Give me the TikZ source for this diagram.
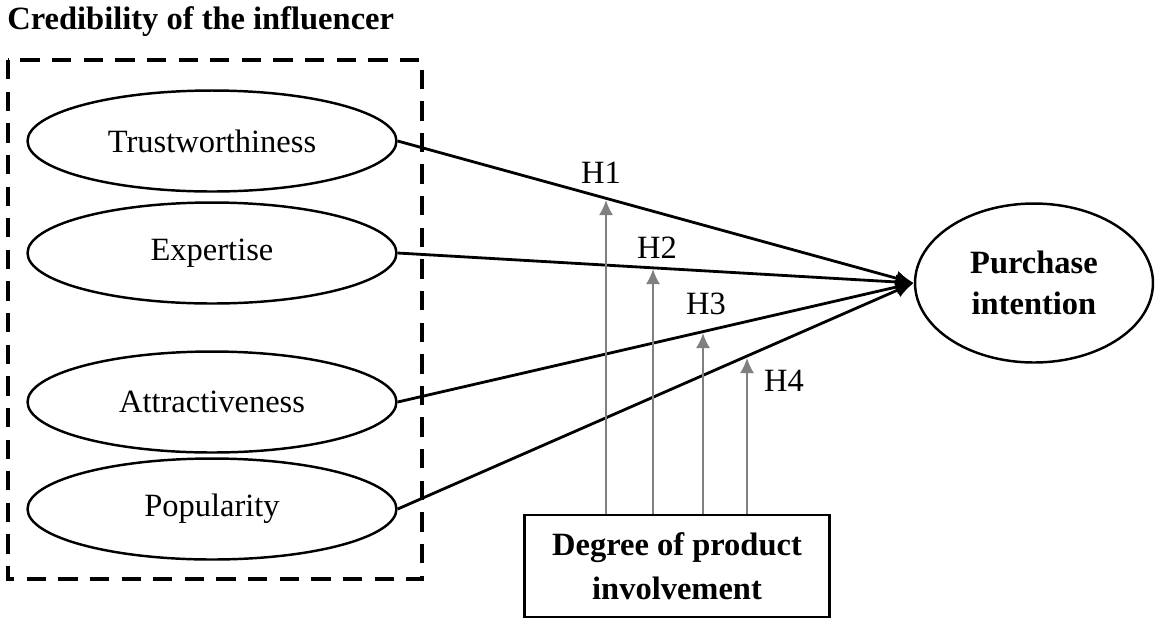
\documentclass[tikz,border=0pt]{standalone}
\usepackage{fontspec}
\setmainfont{Liberation Serif}
\usetikzlibrary{shapes.geometric,arrows.meta}
\definecolor{modgray}{RGB}{128,128,128}

\begin{document}
\begin{tikzpicture}[x=0.02cm,y=-0.02cm,
        every node/.style={font=\fontsize{18.5}{21}\selectfont},
        construct/.style={draw,ellipse,line width=1.4pt,inner sep=0pt,minimum width=7.38cm,minimum height=2.02cm},
        effect/.style={line width=1.6pt,-{Latex[length=0.36cm,width=0.3cm]}},
        moderate/.style={draw=modgray,line width=1.1pt,-{Latex[length=0.3cm,width=0.28cm]}}]
    \useasboundingbox (0,0) rectangle (1156,620);
    % credibility block
    \node[anchor=west,inner sep=0pt,font=\fontsize{18.5}{21}\selectfont\bfseries] (title) at (7,22) {Credibility of the influencer};
    \draw[dashed,line width=2pt,dash pattern=on 11pt off 7pt] (8,60) rectangle (422,579);
    \node[construct] (trust) at (212,141) {Trustworthiness};
    \node[construct] (exper) at (212,253) {Expertise};
    \node[construct] (attr) at (212,402) {Attractiveness};
    \node[construct] (pop) at (212,509) {Popularity};
    % outcome and moderator
    \node[construct,minimum width=4.76cm,minimum height=3.18cm,align=center,font=\fontsize{18.5}{23}\selectfont\bfseries] (pi) at (1034,283) {Purchase\\intention};
    \node[draw,line width=1.6pt,minimum width=6.1cm,minimum height=2.04cm,inner sep=0pt,align=center,font=\fontsize{18.5}{25}\selectfont\bfseries] (inv) at (677,566) {Degree of product\\involvement};
    % direct effects
    \draw[effect] (trust.east) -- (pi.west);
    \draw[effect] (exper.east) -- (pi.west);
    \draw[effect] (attr.east) -- (pi.west);
    \draw[effect] (pop.east) -- (pi.west);
    % moderation
    \coordinate (m1) at (606,200);
    \coordinate (m2) at (653,269);
    \coordinate (m3) at (703,333);
    \coordinate (m4) at (747,358);
    \draw[moderate] (inv.north -| m1) -- (m1);
    \draw[moderate] (inv.north -| m2) -- (m2);
    \draw[moderate] (inv.north -| m3) -- (m3);
    \draw[moderate] (inv.north -| m4) -- (m4);
    \node (h1) at (601,173) {H1};
    \node (h2) at (657,248) {H2};
    \node (h3) at (706,304) {H3};
    \node (h4) at (784,381) {H4};
\end{tikzpicture}
\end{document}
